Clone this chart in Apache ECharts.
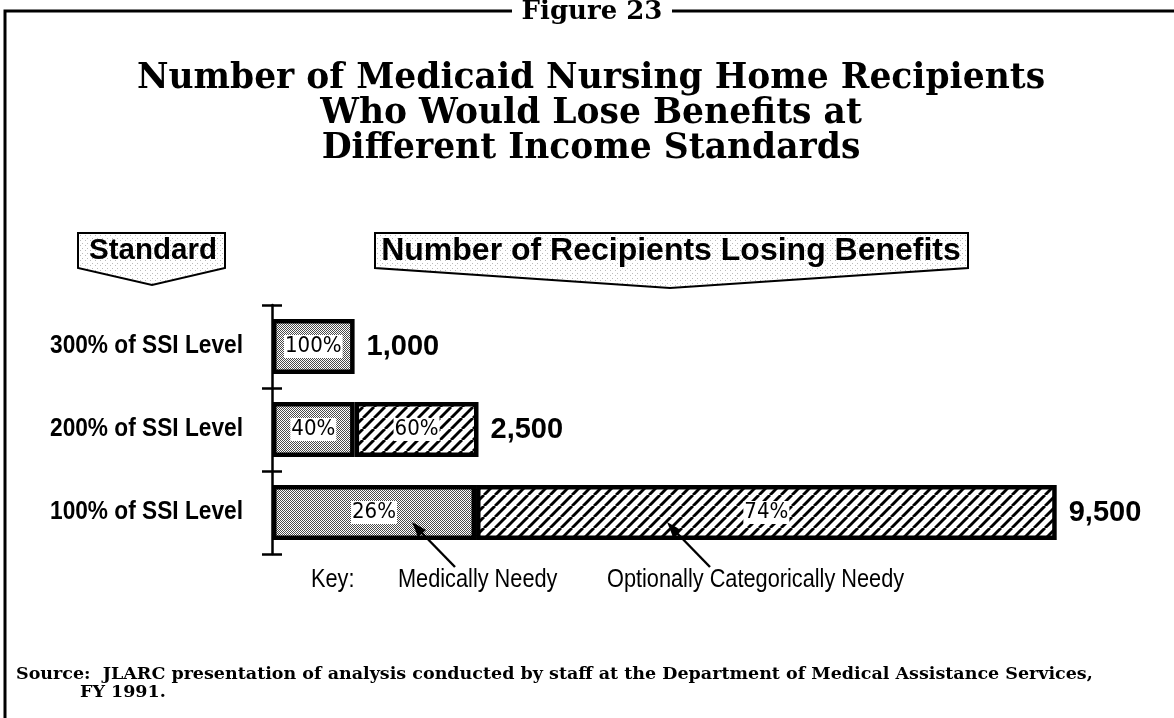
<!DOCTYPE html>
<html><head><meta charset="utf-8">
<script src="https://cdn.jsdelivr.net/npm/echarts@6/dist/echarts.min.js"></script>
<style>html,body{margin:0;padding:0;background:#fff}#c{width:1174px;height:718px}</style>
</head><body><div id="c"></div>
<script>
// ---- data ----
const categories = ['300% of SSI Level', '200% of SSI Level', '100% of SSI Level'];
const medicallyNeedy = [1000, 1000, 2470];
const optionallyCategoricallyNeedy = ['-', 1500, 7030];
const totals = [1000, 2500, 9500];
const totalLabels = ['1,000', '2,500', '9,500'];
const seriesNames = ['Medically Needy', 'Optionally Categorically Needy'];
const figureLabel = 'Figure 23';
const titleLines = ['Number of Medicaid Nursing Home Recipients', 'Who Would Lose Benefits at', 'Different Income Standards'];
const sourceLines = ['Source:  JLARC presentation of analysis conducted by staff at the Department of Medical Assistance Services,', 'FY 1991.'];

// ---- patterns ----
function dotPattern(dark, light) {
  const c = document.createElement('canvas'); c.width = 2; c.height = 2;
  const g = c.getContext('2d');
  g.fillStyle = light; g.fillRect(0,0,2,2);
  g.fillStyle = dark; g.fillRect(0,0,1,1); g.fillRect(1,1,1,1);
  return c;
}
function sparsePattern() {
  const c = document.createElement('canvas'); c.width = 5; c.height = 5;
  const g = c.getContext('2d');
  g.fillStyle = '#fff'; g.fillRect(0,0,5,5);
  g.fillStyle = '#bbb'; g.fillRect(0,0,1,1); g.fillRect(2,3,1,1);
  return c;
}
function hatchPattern() {
  const s = 11; const c = document.createElement('canvas'); c.width = s; c.height = s;
  const g = c.getContext('2d');
  g.fillStyle = '#fff'; g.fillRect(0,0,s,s);
  g.strokeStyle = '#000'; g.lineWidth = 2.9;
  for (let k = -1; k <= 1; k++) { g.beginPath(); g.moveTo(k*s, s); g.lineTo(k*s + s, 0); g.stroke(); }
  return c;
}
const dotFill = {image: dotPattern('#4a4a4a', '#fff'), repeat: 'repeat'};
const hatchFill = {image: hatchPattern(), repeat: 'repeat'};
const lightFill = {image: sparsePattern(), repeat: 'repeat'};

const cond = '"DejaVu Sans Condensed", "Liberation Sans", sans-serif';
const sans = '"Liberation Sans", Arial, sans-serif';
const serif = '"DejaVu Serif", "Liberation Serif", serif';
const NARROW = 0.82; // horizontal squeeze to imitate a condensed grotesque

const pctLabel = () => ({
  show: true, position: 'inside',
  formatter: p => (p.value === '-' ? '' : Math.round(p.value / totals[p.dataIndex] * 100) + '%'),
  color: '#000', fontFamily: cond, fontSize: 22, backgroundColor: '#fff', padding: [1, 1, 0, 1]
});

const chart = echarts.init(document.getElementById('c'), null, {renderer: 'canvas'});
chart.setOption({
  animation: false,
  backgroundColor: '#fff',
  grid: {left: 272, right: 76, top: 305, bottom: 164},
  xAxis: {type: 'value', min: 0, max: 10000, show: false},
  yAxis: [
    {type: 'category', data: categories, inverse: true,
     axisLine: {show: true, lineStyle: {color: '#000', width: 2.5}},
     axisTick: {show: true, length: 10, lineStyle: {color: '#000', width: 2.5}},
     axisLabel: {show: false}},
    {type: 'category', data: categories, inverse: true, position: 'left', offset: 0,
     axisLine: {show: false},
     axisTick: {show: true, inside: true, length: 10, lineStyle: {color: '#000', width: 2.5}},
     axisLabel: {show: false}}
  ],
  series: [
    {name: seriesNames[0], type: 'bar', stack: 's', barWidth: 55, data: medicallyNeedy, z: 3,
     itemStyle: {color: dotFill, borderColor: '#000', borderWidth: 4.5},
     label: pctLabel()},
    {name: seriesNames[1], type: 'bar', stack: 's', barWidth: 55, data: optionallyCategoricallyNeedy, z: 3,
     itemStyle: {color: hatchFill, borderColor: '#000', borderWidth: 4.5},
     label: pctLabel()},
    {name: 'total', type: 'bar', stack: 's', barWidth: 55, data: [0, 0, 0],
     itemStyle: {color: 'transparent', borderWidth: 0},
     label: {show: true, position: 'right', distance: 12, formatter: p => totalLabels[p.dataIndex],
             color: '#000', fontFamily: sans, fontWeight: 'bold', fontSize: 29}},
    // category labels, placed on the category axis positions
    {name: 'categoryLabels', type: 'custom', data: categories.map((c, i) => [0, i]), z: 5,
     encode: {x: 0, y: 1},
     renderItem: (params, api) => {
       const pt = api.coord([0, api.value(1)]);
       return {type: 'text', x: pt[0] - 29, y: pt[1] - 1, scaleX: 0.89,
               style: {text: categories[params.dataIndex], fontFamily: sans, fontWeight: 'bold', fontSize: 25.5,
                       fill: '#000', align: 'right', verticalAlign: 'middle'}};
     }}
  ],
  graphic: {
    elements: [
    // frame
    {type: 'polyline', shape: {points: [[5, 718], [5, 11], [512, 11]]}, style: {stroke: '#000', lineWidth: 3, fill: null}},
    {type: 'line', shape: {x1: 672, y1: 11, x2: 1174, y2: 11}, style: {stroke: '#000', lineWidth: 3}},
    {type: 'text', x: 592, y: 12, style: {text: figureLabel, fontFamily: serif, fontWeight: 'bold', fontSize: 26, fill: '#000', align: 'center', verticalAlign: 'middle'}},
    // title
    {type: 'text', x: 591, y: 79, style: {text: titleLines[0], fontFamily: serif, fontWeight: 'bold', fontSize: 34.5, fill: '#000', align: 'center', verticalAlign: 'middle'}},
    {type: 'text', x: 591, y: 114, style: {text: titleLines[1], fontFamily: serif, fontWeight: 'bold', fontSize: 34.5, fill: '#000', align: 'center', verticalAlign: 'middle'}},
    {type: 'text', x: 591, y: 149, style: {text: titleLines[2], fontFamily: serif, fontWeight: 'bold', fontSize: 34.5, fill: '#000', align: 'center', verticalAlign: 'middle'}},
    // header boxes
    {type: 'polygon', shape: {points: [[78, 233], [225, 233], [225, 268], [152, 285], [78, 268]]}, style: {fill: lightFill, stroke: '#000', lineWidth: 2}},
    {type: 'text', x: 153, y: 251, style: {text: 'Standard', fontFamily: sans, fontWeight: 'bold', fontSize: 29.5, fill: '#000', align: 'center', verticalAlign: 'middle'}},
    {type: 'polygon', shape: {points: [[375, 233], [968, 233], [968, 268], [670, 288], [375, 268]]}, style: {fill: lightFill, stroke: '#000', lineWidth: 2}},
    {type: 'text', x: 671, y: 251, style: {text: 'Number of Recipients Losing Benefits', fontFamily: sans, fontWeight: 'bold', fontSize: 32, fill: '#000', align: 'center', verticalAlign: 'middle'}},
    // key
    {type: 'text', x: 311, y: 580, scaleX: NARROW, style: {text: 'Key:', fontFamily: sans, fontSize: 26.5, fill: '#000', verticalAlign: 'middle'}},
    {type: 'text', x: 398, y: 580, scaleX: NARROW, style: {text: seriesNames[0], fontFamily: sans, fontSize: 26.5, fill: '#000', verticalAlign: 'middle'}},
    {type: 'text', x: 607, y: 580, scaleX: NARROW, style: {text: seriesNames[1], fontFamily: sans, fontSize: 26.5, fill: '#000', verticalAlign: 'middle'}},
    // arrows (drawn above the bars)
    {type: 'line', z: 100, shape: {x1: 455, y1: 567, x2: 418, y2: 529}, style: {stroke: '#000', lineWidth: 2.4}},
    {type: 'polygon', z: 100, shape: {points: [[412, 522], [426, 530], [418, 537]]}, style: {fill: '#000'}},
    {type: 'line', z: 100, shape: {x1: 710, y1: 567, x2: 673, y2: 529}, style: {stroke: '#000', lineWidth: 2.4}},
    {type: 'polygon', z: 100, shape: {points: [[667, 522], [681, 530], [673, 537]]}, style: {fill: '#000'}},
    // source
    {type: 'text', x: 16, y: 674, style: {text: sourceLines[0], fontFamily: serif, fontWeight: 'bold', fontSize: 17.5, fill: '#000', verticalAlign: 'middle'}},
    {type: 'text', x: 80, y: 692, style: {text: sourceLines[1], fontFamily: serif, fontWeight: 'bold', fontSize: 17.5, fill: '#000', verticalAlign: 'middle'}}
  ]}
});
</script></body></html>
